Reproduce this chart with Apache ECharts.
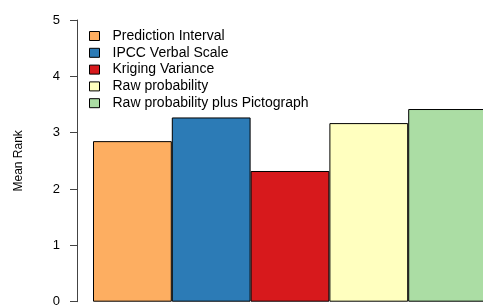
<!DOCTYPE html>
<html><head><meta charset="utf-8">
<script src="https://cdn.jsdelivr.net/npm/echarts@6/dist/echarts.min.js"></script>
<style>html,body{margin:0;padding:0;background:#fff}#c{width:483px;height:305px}</style>
</head><body><div id="c"></div>
<script>
const categories = ["Prediction Interval","IPCC Verbal Scale","Kriging Variance","Raw probability","Raw probability plus Pictograph"];
const meanRank = [2.85, 3.27, 2.32, 3.17, 3.42];
const colors = ["#FDAE61","#2C7BB6","#D7191C","#FFFFBF","#ABDDA4"];
const yTicks = [0,1,2,3,4,5];

const chart = echarts.init(document.getElementById('c'), null, {renderer:'canvas'});
const series = categories.map((name,i)=>({
  name: name,
  type: 'bar',
  stack: 'all',
  barWidth: '100%',
  data: categories.map((c,j)=> j===i ? meanRank[i] : '-'),
  itemStyle: {color: colors[i], borderColor:'#000', borderWidth:1},
  emphasis: {disabled:true}
}));
chart.setOption({
  animation:false,
  textStyle:{fontFamily:'Liberation Sans, Arial, sans-serif'},
  grid:{left:93, top:20, right:-4, bottom:3.3, containLabel:false, outerBoundsMode:'none'},
  legend:{
    orient:'vertical', left:89, top:29, padding:0, itemWidth:10, itemHeight:9, itemGap:2.8,
    icon:'rect', selectedMode:false,
    itemStyle:{borderColor:'#000', borderWidth:1},
    textStyle:{fontSize:14, color:'#000', lineHeight:14, padding:[0,0,0,8]},
    data: categories
  },
  xAxis:{type:'category', data:categories, show:false},
  yAxis:{
    type:'value', min:yTicks[0], max:yTicks[yTicks.length-1], interval:1, offset:16,
    name:'Mean Rank', nameLocation:'middle', nameGap:52,
    nameTextStyle:{fontSize:12, color:'#000'},
    axisLine:{show:true, lineStyle:{color:'#444', width:1}},
    axisTick:{show:true, length:7, lineStyle:{color:'#444'}},
    axisLabel:{fontSize:13, color:'#000', margin:17},
    splitLine:{show:false}
  },
  series: series
});
</script></body></html>
